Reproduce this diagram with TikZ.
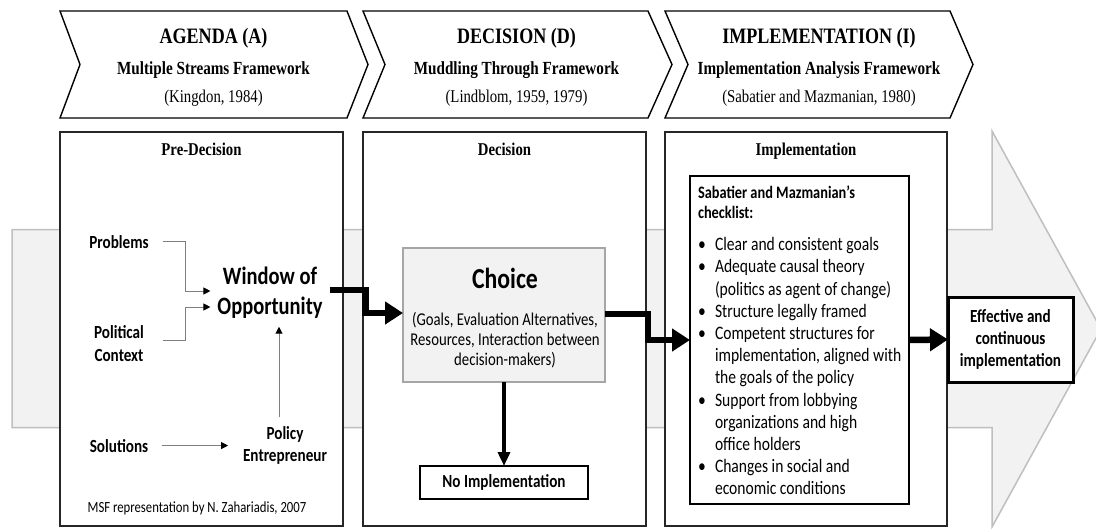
\documentclass[tikz,border=0pt]{standalone}
\usepackage{fontspec}
\setmainfont{Liberation Serif}[FakeStretch=0.82]
\newfontfamily\cb{Carlito}[FakeStretch=0.82]
\usetikzlibrary{arrows.meta}
\definecolor{arrowfill}{HTML}{F2F2F2}
\definecolor{arrowline}{HTML}{BFBFBF}
\definecolor{panelline}{HTML}{262626}
\definecolor{thinline}{HTML}{7F7F7F}
\definecolor{choiceline}{HTML}{A6A6A6}
\newcommand{\bul}{\makebox[17pt][l]{\textbullet}}
\newcommand{\ind}{\hspace*{17pt}}
\begin{document}
\begin{tikzpicture}[x=1pt,y=-1pt,
  every node/.style={inner sep=0pt, outer sep=0pt},
  bigshape/.style={draw=arrowline, line width=1.5pt, fill=arrowfill},
  chev/.style={draw=black, line width=1.4pt, fill=white},
  panel/.style={draw=panelline, line width=1.6pt, fill=white},
  hdtitle/.style={font=\fontsize{22}{26}\selectfont\bfseries, anchor=base},
  hdframe/.style={font=\fontsize{18.5}{22}\selectfont\bfseries, anchor=base},
  hdcite/.style={font=\fontsize{18}{22}\selectfont, anchor=base},
  ptitle/.style={font=\fontsize{18}{22}\selectfont\bfseries, anchor=base},
  lbl/.style={font=\cb\fontsize{18.5}{22.4}\selectfont\bfseries, align=center},
  winlbl/.style={font=\cb\fontsize{25}{30}\selectfont\bfseries, align=center},
  msflbl/.style={font=\cb\fontsize{15.5}{18}\selectfont, anchor=base},
  choicebox/.style={draw=choiceline, line width=1.5pt, fill=arrowfill, minimum width=202pt, minimum height=134pt},
  choicetitle/.style={font=\cb\fontsize{29}{32}\selectfont\bfseries, anchor=base},
  choicesub/.style={font=\cb\fontsize{18}{20}\selectfont, align=center},
  blackbox/.style={draw=black, fill=white, align=center, font=\cb\fontsize{18.5}{22}\selectfont\bfseries},
  chkhead/.style={font=\cb\fontsize{17.5}{20}\selectfont\bfseries, anchor=base west},
  chkline/.style={font=\cb\fontsize{19}{22.2}\selectfont, anchor=base west},
  garrow/.style={draw=thinline, line width=1pt, -{Triangle[length=7pt,width=7pt,black]}},
  bigarrow/.style={draw=black, line width=6.5pt, -{Triangle[length=18pt,width=22pt]}},
  midarrow/.style={draw=black, line width=3.5pt, -{Triangle[length=14pt,width=12pt]}}
]
\useasboundingbox (0,0) rectangle (1096,528);
\clip (0,0) rectangle (1096,528);

% background big arrow
\draw[bigshape] (12,229.5) -- (992,229.5) -- (992,131) -- (1101,329) -- (992,527) -- (992,427.5) -- (12,427.5) -- cycle;

% header chevrons
\draw[chev] (60,11) -- (347,11) -- (368,64.5) -- (347,118) -- (60,118) -- (80,64.5) -- cycle;
\draw[chev] (363,11) -- (648,11) -- (672,64.5) -- (648,118) -- (363,118) -- (385,64.5) -- cycle;
\draw[chev] (665,11) -- (950,11) -- (973,64.5) -- (950,118) -- (665,118) -- (688,64.5) -- cycle;

\node[hdtitle] (tA) at (213.5,43) {AGENDA (A)};
\node[hdframe] (fA) at (213.5,74) {Multiple Streams Framework};
\node[hdcite] (cA) at (213.5,102.5) {(Kingdon, 1984)};
\node[hdtitle] (tD) at (516.5,43) {DECISION (D)};
\node[hdframe] (fD) at (516.5,74) {Muddling Through Framework};
\node[hdcite] (cD) at (516.5,102.5) {(Lindblom, 1959, 1979)};
\node[hdtitle] (tI) at (819,43) {IMPLEMENTATION (I)};
\node[hdframe] (fI) at (819,74) {Implementation Analysis Framework};
\node[hdcite] (cI) at (819,102.5) {(Sabatier and Mazmanian, 1980)};

% panels
\draw[panel] (60,132) rectangle (343,526);
\draw[panel] (363,132) rectangle (646,526);
\draw[panel] (665,132) rectangle (947,526);

\node[ptitle] (pt1) at (201.5,155.5) {Pre-Decision};
\node[ptitle] (pt2) at (504.5,155.5) {Decision};
\node[ptitle] (pt3) at (806,155.5) {Implementation};

% pre-decision content
\node[lbl, anchor=base] (prob) at (119,248) {Problems};
\node[lbl] (pol) at (119,343.5) {Political\\Context};
\node[lbl, anchor=base] (sol) at (119,452) {Solutions};
\node[lbl] (pe) at (285,445.2) {Policy\\Entrepreneur};
\node[winlbl] (win) at (270,293) {Window of\\Opportunity};
\node[msflbl] (msf) at (197,512.3) {MSF representation by N. Zahariadis, 2007};

\draw[garrow] ([xshift=14pt]prob.east) -- ++(23,0) |- ([xshift=-7pt]win.west |- 0,291);
\draw[garrow] ([shift={(19,-3.5)}]pol.east) -- ++(23,0) |- ([xshift=-7pt]win.west |- 0,307);
\draw[garrow] ([xshift=14pt]sol.east) -- ([xshift=-15pt]pe.west |- sol.east);
\draw[garrow, shorten <=9pt, shorten >=8pt] ([xshift=-6pt]pe.north) -- ([xshift=-6pt]pe.north |- win.south);

% decision content
\node[choicebox] (choice) at (504,315) {};
\node[choicetitle] (choicet) at (505,288) {Choice};
\node[choicesub] (choices) at (505,340) {(Goals, Evaluation Alternatives,\\Resources, Interaction between\\decision-makers)};
\node[blackbox, line width=2.5pt, minimum width=168pt, minimum height=33pt] (noimpl) at (504,482.5) {No Implementation};

% implementation content
\node[draw=black, line width=2pt, fill=white, minimum width=219pt, minimum height=328pt] (check) at (799.5,340) {};
\node[chkhead] (ch1) at (698,198.3) {Sabatier and Mazmanian’s};
\node[chkhead] (ch2) at (698,218.3) {checklist:};
\foreach \yy/\tx [count=\i] in {
  250.7/{\bul Clear and consistent goals},
  272.9/{\bul Adequate causal theory},
  295.1/{\ind(politics as agent of change)},
  317.3/{\bul Structure legally framed},
  339.5/{\bul Competent structures for},
  361.7/{\ind implementation, aligned with},
  383.9/{\ind the goals of the policy},
  406.1/{\bul Support from lobbying},
  428.3/{\ind organizations and high},
  450.5/{\ind office holders},
  472.7/{\bul Changes in social and},
  494.9/{\ind economic conditions}}
  \node[chkline] (cl\i) at (698,\yy) {\tx};

\node[blackbox, line width=3pt, minimum width=125pt, minimum height=85pt] (eff) at (1010.5,339.5) {Effective and\\continuous\\implementation};

% thick connectors
\draw[bigarrow] ([shift={(7,-3)}]win.east) -- ++(36,0) |- ([yshift=2pt]choice.west);
\draw[bigarrow] ([yshift=1pt]choice.east) -- ++(43,0) |- (check.west);
\draw[bigarrow] (check.east) -- (eff.west);
\draw[midarrow] (choice.south) -- (noimpl.north);
\end{tikzpicture}
\end{document}
